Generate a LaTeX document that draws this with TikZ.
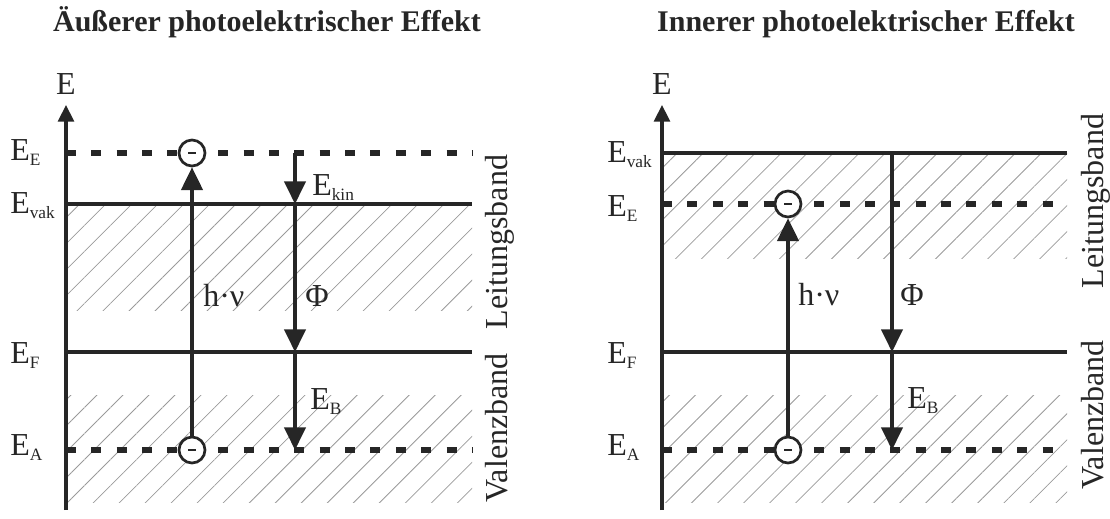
\documentclass[tikz,border=0pt]{standalone}
\usepackage{fontspec}
\setmainfont{Liberation Serif}
\usepackage{xcolor}
\definecolor{cInk}{HTML}{262626}
\definecolor{cHatch}{HTML}{9A9A9A}
\usepackage{tikz}
\usetikzlibrary{positioning,arrows.meta,patterns.meta}
\newcommand{\elvl}[1]{E\raisebox{-4pt}{\fontsize{13}{13}\selectfont #1}}
\tikzset{
  level-solid/.style={draw=cInk,line width=3.3pt},
  level-dash/.style={draw=cInk,line width=3.9pt,dash pattern=on 7.5pt off 11.53pt},
  e-axis/.style={draw=cInk,line width=2.3pt,-{Triangle[length=12.5pt,width=12pt]}},
  arrow/.style={draw=cInk,line width=2.3pt,-{Triangle[length=17pt,width=16pt]}},
  band-hatch/.style={pattern={Lines[angle=45,distance=13.8pt,line width=0.6pt]},
    pattern color=cHatch},
  electron/.style={circle,draw=cInk,line width=2pt,fill=white,
    minimum size=19.5pt,inner sep=0pt,
    path picture={\draw[cInk,line width=1.6pt]
      (path picture bounding box.center) ++(-3pt,0pt) -- ++(6pt,0pt);}},
  lbl/.style={font=\fontsize{24}{24}\selectfont,text=cInk,inner sep=0pt},
  lbl-lvl/.style={lbl,anchor=base west},
  head-title/.style={font=\fontsize{22.5}{24}\selectfont\bfseries,text=cInk,
    inner sep=0pt,anchor=base},
  band-label/.style={lbl,rotate=90,anchor=base},
}

\begin{document}
\begin{tikzpicture}[x=0.75pt,y=-0.75pt]
  \useasboundingbox (0,0) rectangle (1110,518);

  % --- aeusserer Effekt
  \node[head-title] (tAus) at (267,31) {Äußerer photoelektrischer Effekt};
  \fill[band-hatch] (66,204) rectangle (472,310);
  \fill[band-hatch] (66,395) rectangle (472,502);
  \coordinate (axAb) at (66,510);
  \coordinate (axAt) at (66,105);
  \draw[e-axis] (axAb) -- (axAt);
  \node[lbl,above=8pt of axAt] (eAus) {E};
  \draw[level-dash]  (66,153) -- (472,153);
  \draw[level-solid] (66,204) -- (472,204);
  \draw[level-solid] (66,352) -- (472,352);
  \draw[level-dash]  (66,450) -- (472,450);
  \node[lbl-lvl] (lEE) at (10,160) {\elvl{E}};
  \node[lbl-lvl] (lEV) at (10,213) {\elvl{vak}};
  \node[lbl-lvl] (lEF) at (10,363) {\elvl{F}};
  \node[lbl-lvl] (lEA) at (10,455) {\elvl{A}};
  \node[electron] (elAE) at (192,153) {};
  \node[electron] (elAA) at (192,450) {};
  \coordinate (kAE) at (295,153);
  \coordinate (kAV) at (295,204);
  \coordinate (kAF) at (295,352);
  \coordinate (kAA) at (295,450);
  \draw[arrow] (elAA) -- (elAE);
  \draw[arrow] (kAE) -- (kAV);
  \draw[arrow] (kAV) -- (kAF);
  \draw[arrow] (kAF) -- (kAA);
  \node[lbl-lvl] (hvA)   at (203,306) {h·ν};
  \node[lbl-lvl] (phiA)  at (305,306) {Φ};
  \node[lbl-lvl] (ekinA) at (312,195) {\elvl{kin}};
  \node[lbl-lvl] (ebA)   at (310,409) {\elvl{B}};
  \node[band-label] (lbA) at (507,242) {Leitungsband};
  \node[band-label] (vbA) at (507,428) {Valenzband};

  % --- innerer Effekt
  \node[head-title] (tInn) at (866,31) {Innerer photoelektrischer Effekt};
  \fill[band-hatch] (662,153) rectangle (1067,258);
  \fill[band-hatch] (662,395) rectangle (1067,502);
  \coordinate (axIb) at (662,510);
  \coordinate (axIt) at (662,105);
  \draw[e-axis] (axIb) -- (axIt);
  \node[lbl,above=8pt of axIt] (eInn) {E};
  \draw[level-solid] (662,153) -- (1067,153);
  \draw[level-dash]  (662,204) -- (1067,204);
  \draw[level-solid] (662,352) -- (1067,352);
  \draw[level-dash]  (662,450) -- (1067,450);
  \node[lbl-lvl] (iEV) at (607,162) {\elvl{vak}};
  \node[lbl-lvl] (iEE) at (607,216) {\elvl{E}};
  \node[lbl-lvl] (iEF) at (607,363) {\elvl{F}};
  \node[lbl-lvl] (iEA) at (607,455) {\elvl{A}};
  \node[electron] (elIE) at (788,204) {};
  \node[electron] (elIA) at (788,450) {};
  \coordinate (kIV) at (892,153);
  \coordinate (kIF) at (892,352);
  \coordinate (kIA) at (892,450);
  \draw[arrow] (elIA) -- (elIE);
  \draw[arrow] (kIV) -- (kIF);
  \draw[arrow] (kIF) -- (kIA);
  \node[lbl-lvl] (hvI)  at (798,305) {h·ν};
  \node[lbl-lvl] (phiI) at (900,305) {Φ};
  \node[lbl-lvl] (ebI)  at (907,408) {\elvl{B}};
  \node[band-label] (lbI) at (1103,201) {Leitungsband};
  \node[band-label] (vbI) at (1103,415) {Valenzband};
\end{tikzpicture}
\end{document}
